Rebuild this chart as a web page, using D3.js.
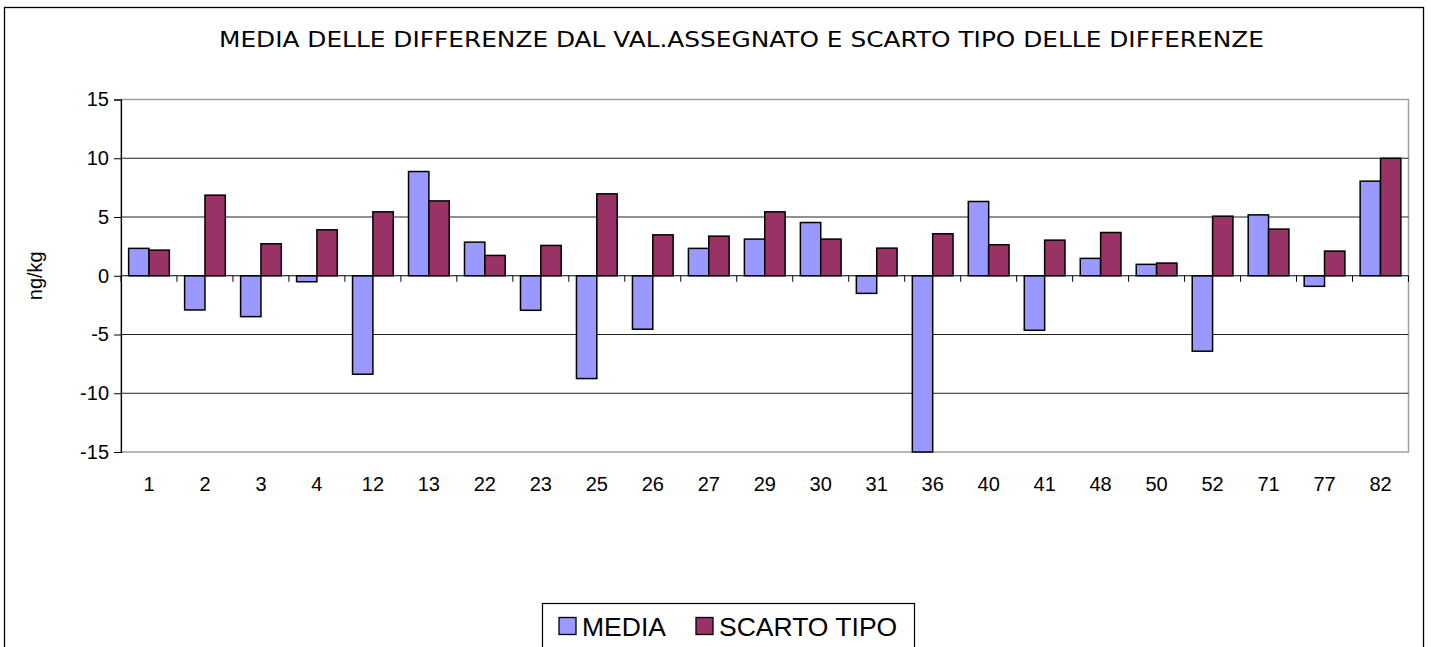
<!DOCTYPE html>
<html>
<head>
<meta charset="utf-8">
<script src="https://cdn.jsdelivr.net/npm/d3@7"></script>
<style>
  body { margin: 0; background: #fff; }
  svg { display: block; }
</style>
</head>
<body>
<svg id="chart" width="1431" height="647"></svg>
<script>
var categories = ["1","2","3","4","12","13","22","23","25","26","27","29","30","31","36","40","41","48","50","52","71","77","82"];
var media = [2.33,-2.91,-3.48,-0.51,-8.38,8.87,2.86,-2.94,-8.75,-4.55,2.33,3.12,4.53,-1.5,-15,6.32,-4.64,1.48,0.97,-6.42,5.18,-0.9,8.05];
var scartoTipo = [2.18,6.86,2.72,3.91,5.44,6.37,1.73,2.58,6.97,3.48,3.37,5.44,3.12,2.35,3.57,2.64,3.03,3.68,1.08,5.07,3.97,2.1,10.0];
var yTicks = [-15,-10,-5,0,5,10,15];
var seriesNames = ["MEDIA", "SCARTO TIPO"];
var seriesColors = ["#9999ff", "#993366"];

var svg = d3.select("#chart");
var plot = { left: 121, top: 99.5, right: 1408.5, bottom: 452 };
var sans = "'Liberation Sans', Arial, sans-serif";

// chart frame
svg.append("rect")
  .attr("x", 4.5).attr("y", 7.5)
  .attr("width", 1419).attr("height", 660)
  .attr("fill", "none").attr("stroke", "#000").attr("stroke-width", 1.3);

// title (the original font is wider than DejaVu, so stretch it to the measured width)
svg.append("text")
  .attr("x", 219).attr("y", 47)
  .attr("text-anchor", "start")
  .attr("textLength", 1045)
  .attr("lengthAdjust", "spacingAndGlyphs")
  .style("font-family", "'DejaVu Sans', Tahoma, sans-serif")
  .style("font-size", "21px")
  .text("MEDIA DELLE DIFFERENZE DAL VAL.ASSEGNATO E SCARTO TIPO DELLE DIFFERENZE");

var x = d3.scaleBand().domain(categories).range([plot.left, plot.right]).paddingInner(0).paddingOuter(0);
var y = d3.scaleLinear().domain([-15, 15]).range([plot.bottom, plot.top]);
var inner = d3.scaleBand().domain([0, 1]).range([0, x.bandwidth()]).paddingInner(0).paddingOuter(0.375);

// plot area border (grey)
svg.append("rect")
  .attr("x", plot.left).attr("y", plot.top)
  .attr("width", plot.right - plot.left).attr("height", plot.bottom - plot.top)
  .attr("fill", "none").attr("stroke", "#a0a0a0").attr("stroke-width", 1.5);

// gridlines
svg.append("g").selectAll("line")
  .data(yTicks.filter(function(d) { return d !== 15 && d !== -15 && d !== 0; }))
  .join("line")
  .attr("x1", plot.left).attr("x2", plot.right)
  .attr("y1", function(d) { return y(d); }).attr("y2", function(d) { return y(d); })
  .attr("stroke", "#222").attr("stroke-width", 1);

// y axis
var yAxis = svg.append("g")
  .attr("transform", "translate(" + plot.left + ",0)")
  .call(d3.axisLeft(y).tickValues(yTicks).tickSize(7).tickPadding(5).tickFormat(d3.format("d")));
yAxis.select(".domain").attr("stroke", "#000").attr("stroke-width", 1.2);
yAxis.selectAll(".tick line").attr("stroke", "#000");
yAxis.selectAll("text")
  .style("font-family", sans)
  .style("font-size", "20px")
  .attr("fill", "#000")
  .text(function(d) { return String(d); });

svg.append("text")
  .attr("transform", "translate(42," + y(0) + ") rotate(-90)")
  .attr("text-anchor", "middle")
  .style("font-family", sans)
  .style("font-size", "20px")
  .text("ng/kg");

// bars
var groups = svg.append("g").selectAll("g")
  .data(categories)
  .join("g")
  .attr("transform", function(d) { return "translate(" + x(d) + ",0)"; });

groups.selectAll("rect")
  .data(function(d, i) { return [media[i], scartoTipo[i]]; })
  .join("rect")
  .attr("x", function(d, j) { return inner(j); })
  .attr("width", inner.bandwidth())
  .attr("y", function(d) { return y(Math.max(0, d)); })
  .attr("height", function(d) { return Math.abs(y(d) - y(0)); })
  .attr("fill", function(d, j) { return seriesColors[j]; })
  .attr("stroke", "#000").attr("stroke-width", 1.5);

// x axis at zero, ticks at category boundaries
var xAxis = svg.append("g");
xAxis.append("line")
  .attr("x1", plot.left).attr("x2", plot.right)
  .attr("y1", y(0)).attr("y2", y(0))
  .attr("stroke", "#000").attr("stroke-width", 1.2);
xAxis.selectAll("line.tk")
  .data(categories.concat(["end"]))
  .join("line").attr("class", "tk")
  .attr("x1", function(d, i) { return plot.left + i * x.step(); })
  .attr("x2", function(d, i) { return plot.left + i * x.step(); })
  .attr("y1", y(0)).attr("y2", y(0) + 6)
  .attr("stroke", "#000");
xAxis.selectAll("text")
  .data(categories)
  .join("text")
  .attr("x", function(d) { return x(d) + x.bandwidth() / 2; })
  .attr("y", 490.5)
  .attr("text-anchor", "middle")
  .style("font-family", sans)
  .style("font-size", "20px")
  .text(function(d) { return d; });

// legend
var legend = svg.append("g");
legend.append("rect")
  .attr("x", 542.5).attr("y", 603.5).attr("width", 372).attr("height", 60)
  .attr("fill", "#fff").attr("stroke", "#000").attr("stroke-width", 1.2);
var legendX = [559, 696];
seriesNames.forEach(function(name, i) {
  legend.append("rect")
    .attr("x", legendX[i]).attr("y", 617.5).attr("width", 17).attr("height", 17)
    .attr("fill", seriesColors[i]).attr("stroke", "#000").attr("stroke-width", 1.3);
  legend.append("text")
    .attr("x", legendX[i] + 23).attr("y", 635.5)
    .style("font-family", sans)
    .style("font-size", "26.5px")
    .text(name);
});
</script>
</body>
</html>
